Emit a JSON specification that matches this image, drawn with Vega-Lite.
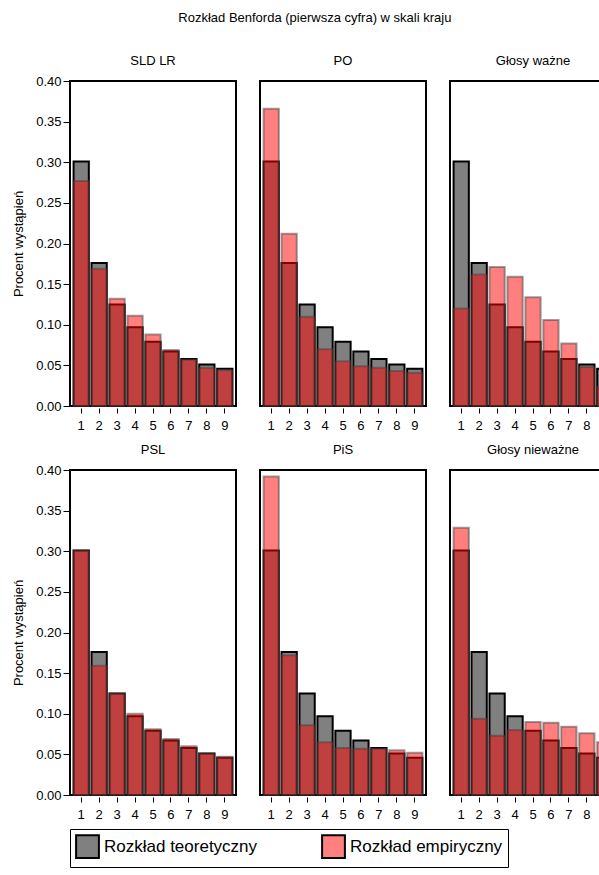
{
"$schema":"https://vega.github.io/schema/vega-lite/v6.json",
"padding":{"left":12,"top":12,"right":0,"bottom":0},
"title":{"text":"Rozkład Benforda (pierwsza cyfra) w skali kraju","fontSize":13,"font":"Liberation Sans","fontWeight":"normal","offset":30,"anchor":"middle"},
"config":{"font":"Liberation Sans","view":{"stroke":"black","strokeWidth":2},"axis":{"grid":false,"domainColor":"black","tickColor":"black","labelFontSize":13,"labelColor":"black","labelOverlap":false},"header":{"labelFontSize":13,"labelPadding":12,"labelColor":"black","title":null},
"legend":{"orient":"bottom","direction":"horizontal","labelFontSize":17,"symbolType":"square","symbolSize":520,"symbolStrokeColor":"black","symbolStrokeWidth":2,"columnPadding":60,"labelLimit":300,"padding":5,"strokeColor":"black","fillColor":"white","offset":8}},
"resolve":{"legend":{"color":"shared"},"scale":{"color":"shared"}},
"data":{"values":[
{"p":"SLD LR","r":1,"d":1,"t":0.301,"e":0.277},{"p":"SLD LR","r":1,"d":2,"t":0.176,"e":0.169},{"p":"SLD LR","r":1,"d":3,"t":0.125,"e":0.132},{"p":"SLD LR","r":1,"d":4,"t":0.097,"e":0.111},{"p":"SLD LR","r":1,"d":5,"t":0.079,"e":0.088},{"p":"SLD LR","r":1,"d":6,"t":0.067,"e":0.069},{"p":"SLD LR","r":1,"d":7,"t":0.058,"e":0.057},{"p":"SLD LR","r":1,"d":8,"t":0.051,"e":0.047},{"p":"SLD LR","r":1,"d":9,"t":0.046,"e":0.044},
{"p":"PO","r":1,"d":1,"t":0.301,"e":0.366},{"p":"PO","r":1,"d":2,"t":0.176,"e":0.212},{"p":"PO","r":1,"d":3,"t":0.125,"e":0.110},{"p":"PO","r":1,"d":4,"t":0.097,"e":0.070},{"p":"PO","r":1,"d":5,"t":0.079,"e":0.055},{"p":"PO","r":1,"d":6,"t":0.067,"e":0.049},{"p":"PO","r":1,"d":7,"t":0.058,"e":0.047},{"p":"PO","r":1,"d":8,"t":0.051,"e":0.043},{"p":"PO","r":1,"d":9,"t":0.046,"e":0.041},
{"p":"Głosy ważne","r":1,"d":1,"t":0.301,"e":0.120},{"p":"Głosy ważne","r":1,"d":2,"t":0.176,"e":0.162},{"p":"Głosy ważne","r":1,"d":3,"t":0.125,"e":0.171},{"p":"Głosy ważne","r":1,"d":4,"t":0.097,"e":0.159},{"p":"Głosy ważne","r":1,"d":5,"t":0.079,"e":0.134},{"p":"Głosy ważne","r":1,"d":6,"t":0.067,"e":0.106},{"p":"Głosy ważne","r":1,"d":7,"t":0.058,"e":0.077},{"p":"Głosy ważne","r":1,"d":8,"t":0.051,"e":0.048},{"p":"Głosy ważne","r":1,"d":9,"t":0.046,"e":0.024},
{"p":"PSL","r":2,"d":1,"t":0.301,"e":0.301},{"p":"PSL","r":2,"d":2,"t":0.176,"e":0.159},{"p":"PSL","r":2,"d":3,"t":0.125,"e":0.125},{"p":"PSL","r":2,"d":4,"t":0.097,"e":0.100},{"p":"PSL","r":2,"d":5,"t":0.079,"e":0.081},{"p":"PSL","r":2,"d":6,"t":0.067,"e":0.069},{"p":"PSL","r":2,"d":7,"t":0.058,"e":0.060},{"p":"PSL","r":2,"d":8,"t":0.051,"e":0.051},{"p":"PSL","r":2,"d":9,"t":0.046,"e":0.047},
{"p":"PiS","r":2,"d":1,"t":0.301,"e":0.392},{"p":"PiS","r":2,"d":2,"t":0.176,"e":0.172},{"p":"PiS","r":2,"d":3,"t":0.125,"e":0.086},{"p":"PiS","r":2,"d":4,"t":0.097,"e":0.065},{"p":"PiS","r":2,"d":5,"t":0.079,"e":0.058},{"p":"PiS","r":2,"d":6,"t":0.067,"e":0.057},{"p":"PiS","r":2,"d":7,"t":0.058,"e":0.057},{"p":"PiS","r":2,"d":8,"t":0.051,"e":0.055},{"p":"PiS","r":2,"d":9,"t":0.046,"e":0.052},
{"p":"Głosy nieważne","r":2,"d":1,"t":0.301,"e":0.329},{"p":"Głosy nieważne","r":2,"d":2,"t":0.176,"e":0.094},{"p":"Głosy nieważne","r":2,"d":3,"t":0.125,"e":0.073},{"p":"Głosy nieważne","r":2,"d":4,"t":0.097,"e":0.080},{"p":"Głosy nieważne","r":2,"d":5,"t":0.079,"e":0.090},{"p":"Głosy nieważne","r":2,"d":6,"t":0.067,"e":0.089},{"p":"Głosy nieważne","r":2,"d":7,"t":0.058,"e":0.084},{"p":"Głosy nieważne","r":2,"d":8,"t":0.051,"e":0.076},{"p":"Głosy nieważne","r":2,"d":9,"t":0.046,"e":0.065}
]},
"spacing":12,
"vconcat":[
{"transform":[{"filter":"datum.r == 1"}],
"facet":{"column":{"field":"p","type":"nominal","sort":["SLD LR","PO","Głosy ważne"],"title":null}},
"spacing":{"column":22},
"spec":{
"width":166,"height":325,
"encoding":{"x":{"field":"d","type":"ordinal","title":null,"scale":{"paddingInner":0.15,"paddingOuter":0.2},"axis":{"labelAngle":0,"domain":false,"tickSize":5,"labelPadding":6}}},
"layer":[
{"mark":{"type":"bar","fill":"#808080","stroke":"black","strokeWidth":2},
"encoding":{"y":{"field":"t","type":"quantitative","title":"Procent wystąpień","scale":{"domain":[0,0.4]},"axis":{"format":".2f","values":[0,0.05,0.1,0.15,0.2,0.25,0.3,0.35,0.4],"titleFontSize":13,"titleFontWeight":"normal","domain":false,"tickSize":6,"titlePadding":10}},
"color":{"datum":"Rozkład teoretyczny","type":"nominal","scale":{"domain":["Rozkład teoretyczny","Rozkład empiryczny"],"range":["#808080","#ff8080"]},"legend":{"title":null}}}},
{"mark":{"type":"bar","fill":"#ff0000","fillOpacity":0.5,"stroke":"#404040","strokeOpacity":0.5,"strokeWidth":2},
"encoding":{"y":{"field":"e","type":"quantitative"}}}
]}},
{"transform":[{"filter":"datum.r == 2"}],
"facet":{"column":{"field":"p","type":"nominal","sort":["PSL","PiS","Głosy nieważne"],"title":null}},
"spacing":{"column":22},
"spec":{
"width":166,"height":325,
"encoding":{"x":{"field":"d","type":"ordinal","title":null,"scale":{"paddingInner":0.15,"paddingOuter":0.2},"axis":{"labelAngle":0,"domain":false,"tickSize":5,"labelPadding":6}}},
"layer":[
{"mark":{"type":"bar","fill":"#808080","stroke":"black","strokeWidth":2},
"encoding":{"y":{"field":"t","type":"quantitative","title":"Procent wystąpień","scale":{"domain":[0,0.4]},"axis":{"format":".2f","values":[0,0.05,0.1,0.15,0.2,0.25,0.3,0.35,0.4],"titleFontSize":13,"titleFontWeight":"normal","domain":false,"tickSize":6,"titlePadding":10}},
"color":{"datum":"Rozkład teoretyczny","type":"nominal","scale":{"domain":["Rozkład teoretyczny","Rozkład empiryczny"],"range":["#808080","#ff8080"]},"legend":{"title":null}}}},
{"mark":{"type":"bar","fill":"#ff0000","fillOpacity":0.5,"stroke":"#404040","strokeOpacity":0.5,"strokeWidth":2},
"encoding":{"y":{"field":"e","type":"quantitative"}}}
]}}
]
}
